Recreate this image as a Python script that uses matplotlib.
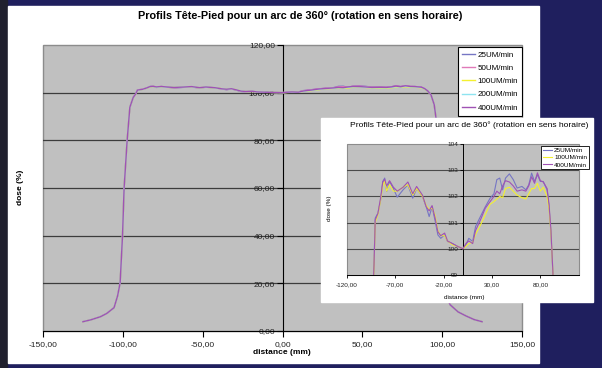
#!/usr/bin/env python3
"""Head-foot dose profiles for a 360 degree arc, with a zoomed inset."""

import matplotlib.pyplot as plt
from matplotlib.patches import Rectangle
from matplotlib.ticker import FuncFormatter

plt.rcParams["font.family"] = ["Liberation Sans", "DejaVu Sans"]

TITLE = "Profils Tête-Pied pour un arc de 360° (rotation en sens horaire)"

# penumbra tails (mm, %)
tail_left_x = [-125, -120, -114, -110, -105.5, -103.3, -101.7, -100.2, -99.2, -97.3, -95.6, -93.5]
tail_left_dose = [3.9, 4.7, 6.0, 7.4, 9.8, 14.7, 20.2, 40.0, 60.0, 80.0, 93.9, 98.0]
tail_right_x = [95, 97, 99, 100.2, 101.6, 103, 105, 110, 115, 120, 125]
tail_right_dose = [95.0, 85.0, 62.0, 40.0, 20.0, 14.0, 11.0, 8.0, 6.3, 4.8, 3.9]

# plateau region (mm)
core_x = [-92, -90.8, -88, -85, -83, -81, -79, -76, -72, -68,
          -62, -57, -52, -48, -42, -38, -35, -32, -29, -26,
          -23, -19, -16, -11, -6, 0, 3, 6, 10, 13,
          18, 23, 28, 32, 35, 38, 41, 44, 48, 52,
          56, 61, 65, 68, 71, 74, 77, 80, 83, 87,
          89, 91, 93]

dose_25 = [99.5, 101.17, 101.36, 101.9, 102.57, 102.7, 102.19, 102.57, 102.3, 101.97,
           102.25, 102.44, 101.93, 102.3, 102.0, 101.6, 101.23, 101.6, 101.1, 100.53,
           100.4, 100.53, 100.28, 100.2, 100.1, 100.0, 100.15, 100.4, 100.28, 100.85,
           101.23, 101.6, 101.93, 102.1, 102.64, 102.7, 102.25, 102.7, 102.86, 102.64,
           102.32, 102.38, 102.25, 102.44, 102.89, 102.57, 102.83, 102.57, 102.57, 102.25,
           101.6, 100.6, 99.06]
dose_50 = [99.5, 101.15, 101.4, 101.95, 102.5, 102.7, 102.3, 102.55, 102.3, 102.05,
           102.3, 102.5, 102.0, 102.35, 102.0, 101.6, 101.3, 101.6, 101.15, 100.6,
           100.45, 100.55, 100.3, 100.2, 100.1, 100.0, 100.15, 100.35, 100.25, 100.8,
           101.2, 101.6, 101.9, 102.05, 102.45, 102.5, 102.3, 102.65, 102.75, 102.55,
           102.3, 102.3, 102.25, 102.4, 102.8, 102.55, 102.85, 102.6, 102.55, 102.3,
           101.65, 100.65, 99.1]
dose_100 = [99.3, 101.0, 101.3, 101.9, 102.4, 102.6, 102.2, 102.45, 102.2, 102.2,
            102.35, 102.45, 102.05, 102.3, 102.0, 101.65, 101.5, 101.55, 101.3, 100.7,
            100.5, 100.5, 100.3, 100.15, 100.1, 100.0, 100.1, 100.2, 100.25, 100.55,
            100.9, 101.3, 101.7, 101.8, 101.9, 102.0, 101.95, 102.3, 102.35, 102.2,
            102.05, 101.95, 101.9, 102.1, 102.3, 102.3, 102.5, 102.2, 102.35, 102.0,
            101.5, 100.6, 99.1]
dose_200 = [99.4, 101.05, 101.3, 101.95, 102.5, 102.6, 102.3, 102.5, 102.25, 102.2,
            102.35, 102.5, 102.05, 102.35, 102.0, 101.6, 101.45, 101.6, 101.25, 100.7,
            100.5, 100.55, 100.3, 100.2, 100.1, 100.0, 100.15, 100.25, 100.2, 100.6,
            101.0, 101.4, 101.75, 101.9, 102.05, 102.05, 102.2, 102.45, 102.45, 102.3,
            102.1, 102.1, 102.05, 102.25, 102.5, 102.4, 102.7, 102.4, 102.45, 102.15,
            101.6, 100.65, 99.1]
dose_400 = [99.4, 101.1, 101.35, 102.0, 102.55, 102.65, 102.4, 102.6, 102.35, 102.2,
            102.35, 102.55, 102.1, 102.38, 102.05, 101.6, 101.45, 101.65, 101.2, 100.65,
            100.5, 100.6, 100.3, 100.2, 100.1, 100.0, 100.2, 100.3, 100.2, 100.7,
            101.1, 101.55, 101.8, 102.0, 102.2, 102.1, 102.4, 102.6, 102.55, 102.4,
            102.2, 102.25, 102.2, 102.4, 102.75, 102.5, 102.9, 102.6, 102.55, 102.3,
            101.7, 100.7, 99.1]

labels = ["25UM/min", "50UM/min", "100UM/min", "200UM/min", "400UM/min"]
colors = ["#7676c4", "#e07ab8", "#f4f030", "#8ee4f0", "#a052b4"]
cores = [dose_25, dose_50, dose_100, dose_200, dose_400]
inset_series = [0, 2, 4]

full_x = tail_left_x + core_x + tail_right_x
profiles = [tail_left_dose + c + tail_right_dose for c in cores]

W, H = 602, 368
fig = plt.figure(figsize=(W / 100, H / 100), dpi=100, facecolor="#1f1f5e")


def frac(x0, y0, x1, y1):
    """pixel box (top-left origin) -> figure fraction rect"""
    return [x0 / W, 1 - y1 / H, (x1 - x0) / W, (y1 - y0) / H]


def comma2(v, _pos=None):
    return f"{v:.2f}".replace(".", ",")


# dark strip on the left edge and the white chart panel
fig.add_artist(Rectangle((0, 0), 7 / W, 1, transform=fig.transFigure,
                         color="#20202e", zorder=-2))
fig.add_artist(Rectangle(frac(8, 6, 539, 363)[:2], *frac(8, 6, 539, 363)[2:],
                         transform=fig.transFigure, color="white", zorder=-1))

# ---- main chart
ax = fig.add_axes(frac(43, 45, 522, 331))
ax.set_zorder(1)
ax.set_facecolor("#c0c0c0")
for i, (lab, col) in enumerate(zip(labels, colors)):
    ax.plot(full_x, profiles[i], color=col, lw=1.0, label=lab, zorder=3 + i)
ax.set_xlim(-150, 150)
ax.set_ylim(0, 120)
ax.set_xticks(range(-150, 151, 50))
ax.set_yticks(range(0, 121, 20))
ax.xaxis.set_major_formatter(FuncFormatter(comma2))
ax.yaxis.set_major_formatter(FuncFormatter(comma2))
for y in range(20, 120, 20):
    ax.axhline(y, color="#3c3c3c", lw=0.9, zorder=1)
for side in ("top", "right"):
    ax.spines[side].set_visible(False)
ax.spines["left"].set_position(("data", 0))
ax.spines["left"].set_color("black")
ax.spines["left"].set_linewidth(0.8)
ax.spines["bottom"].set_color("black")
ax.spines["bottom"].set_linewidth(0.8)
ax.add_patch(Rectangle((0, 0), 1, 1, transform=ax.transAxes, fill=False,
                       ec="#8c8c8c", lw=1.0, clip_on=False, zorder=0.5))
ax.tick_params(axis="both", direction="out", length=4, width=0.8,
               labelsize=6, colors="black", labelcolor="#222222")
ax.tick_params(axis="y", pad=1.5)
ax.tick_params(axis="x", pad=3)

fig.text(300 / W, 1 - 16 / H, TITLE, ha="center", va="center",
         fontsize=7.8, fontweight="bold")
fig.text(282 / W, 1 - 352 / H, "distance (mm)", ha="center", va="center",
         fontsize=6, fontweight="bold")
fig.text(21 / W, 1 - 187 / H, "dose (%)", ha="center", va="center",
         fontsize=6, fontweight="bold", rotation=90)

leg = ax.legend(loc="upper right", bbox_to_anchor=(1, 1 - 2 / 286),
                borderaxespad=0, fontsize=5.8, frameon=True, fancybox=False,
                edgecolor="black", framealpha=1, handlelength=1.6,
                handletextpad=0.3, labelspacing=0.7, borderpad=0.5)
leg.get_frame().set_linewidth(0.8)
leg.set_zorder(20)

# ---- zoomed inset on the plateau
fig.add_artist(Rectangle(frac(321, 118, 593, 302)[:2], *frac(321, 118, 593, 302)[2:],
                         transform=fig.transFigure, color="white", zorder=2))
ins = fig.add_axes(frac(347, 144, 579, 275))
ins.set_zorder(3)
ins.set_facecolor("#c0c0c0")
for i in inset_series:
    ins.plot(full_x, profiles[i], color=colors[i], lw=0.8, label=labels[i], zorder=3 + i)
ins.set_xlim(-120, 120)
ins.set_ylim(99, 104)
ins.set_xticks(range(-120, 121, 50))
ins.set_yticks(range(99, 105))
ins.xaxis.set_major_formatter(FuncFormatter(comma2))
for y in range(100, 104):
    ins.axhline(y, color="#4a4a4a", lw=0.8, zorder=1)
for side in ("top", "right"):
    ins.spines[side].set_visible(False)
ins.spines["left"].set_position(("data", 0))
ins.spines["left"].set_linewidth(0.7)
ins.spines["bottom"].set_linewidth(0.7)
ins.add_patch(Rectangle((0, 0), 1, 1, transform=ins.transAxes, fill=False,
                        ec="#8c8c8c", lw=0.8, clip_on=False, zorder=0.5))
ins.tick_params(axis="both", direction="out", length=2.5, width=0.6,
                labelsize=4.6, labelcolor="#222222")
ins.tick_params(axis="y", pad=1)
ins.tick_params(axis="x", pad=2.5)

fig.text(469 / W, 1 - 125 / H, TITLE, ha="center", va="center", fontsize=6.1,
         zorder=4)
fig.text(464 / W, 1 - 297 / H, "distance (mm)", ha="center", va="center",
         fontsize=4.6, zorder=4)
fig.text(330 / W, 1 - 208 / H, "dose (%)", ha="center", va="center",
         fontsize=4.6, rotation=90, zorder=4)

ileg = ins.legend(loc="upper right", bbox_to_anchor=(589 / W, 1 - 146 / H),
                  bbox_transform=fig.transFigure, borderaxespad=0, fontsize=4.6,
                  frameon=True, fancybox=False, edgecolor="black", framealpha=1,
                  handlelength=1.5, handletextpad=0.3, labelspacing=0.25,
                  borderpad=0.3)
ileg.get_frame().set_linewidth(0.6)

fig.savefig("out.png", dpi=100, facecolor=fig.get_facecolor())
